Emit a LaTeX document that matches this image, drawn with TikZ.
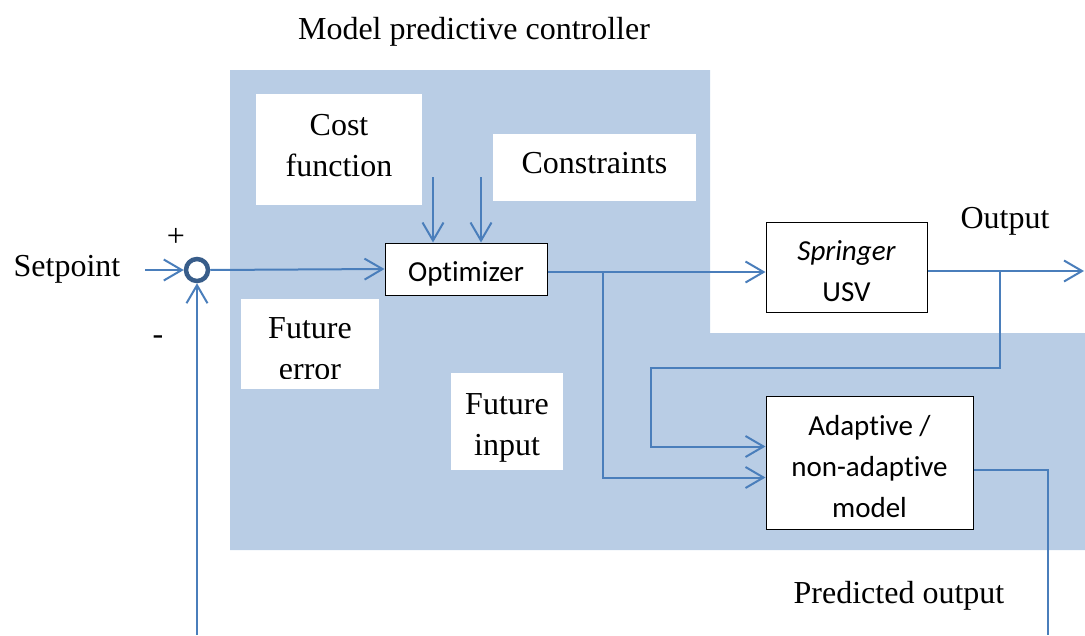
\documentclass[tikz,border=0pt]{standalone}
\usepackage{fontspec}
\setmainfont{Liberation Serif}
\newfontfamily\blockfont[Ligatures=NoCommon]{Carlito}
\usetikzlibrary{arrows.meta}

\definecolor{mpcfill}{HTML}{B9CDE5}
\definecolor{wirecol}{HTML}{4A7EBB}
\definecolor{ringcol}{HTML}{385D8A}

\tikzset{
  wire/.style={draw=wirecol, line width=2pt},
  arr/.style={wire, -{Straight Barb[length=18pt,width=21pt,line width=2pt]}},
  whitebox/.style={fill=white, inner sep=0pt},
  block/.style={draw=black, line width=1pt, fill=white, inner sep=0pt},
  blocktext/.style={inner sep=0pt, align=center,
    font=\blockfont\fontsize{29}{41}\selectfont},
  lbl/.style={inner sep=0pt, align=center, font=\fontsize{32}{41}\selectfont}
}

\begin{document}
\begin{tikzpicture}[x=1pt, y=-1pt]
      \pgfmathsetmacro{\xmax}{1085};
      \pgfmathsetmacro{\ymax}{635};

      \useasboundingbox (0,0) rectangle (\xmax,\ymax);

      % controller area
      \fill[mpcfill] (230,70) -- (710,70) -- (710,333) -- (\xmax,333)
        -- (\xmax,550) -- (230,550) -- cycle;

      \node[lbl] (title) at (474,32) {Model predictive controller};

      % white text boxes
      \node[
        whitebox,
        minimum width=166pt,
        minimum height=111pt
        ] (costfn) at (339,149.5) {};
      \node[lbl] (costfntext) at (339,145.5) {Cost\\function};

      \node[
        whitebox,
        minimum width=203pt,
        minimum height=67pt
        ] (constr) at (594.5,167.5) {};
      \node[lbl] (constrtext) at (594.5,163.5) {Constraints};

      \node[
        whitebox,
        minimum width=138pt,
        minimum height=90pt
        ] (futerr) at (310,344) {};
      % text overflows its box and is cut off
      \begin{scope}
        \clip (futerr.north west) rectangle ([yshift=11pt]futerr.south east);
        \node[lbl] (futerrtext) at (310,349) {Future\\error};
      \end{scope}

      \node[
        whitebox,
        minimum width=112pt,
        minimum height=97pt
        ] (futin) at (507,421.5) {};
      \node[lbl] (futintext) at (507,427.5) {Future\\input};

      % blocks
      \node[
        block,
        minimum width=162pt,
        minimum height=52pt
        ] (optimizer) at (466,269) {};
      \node[blocktext] (optimizertext) at (466,274) {Optimizer};

      \node[
        block,
        minimum width=161pt,
        minimum height=90pt
        ] (usv) at (846.5,267) {};
      \node[blocktext] (usvtext) at (846.5,271) {{\itshape Springer}\\USV};

      \node[
        block,
        minimum width=207pt,
        minimum height=133pt
        ] (model) at (869.5,462.5) {};
      \node[blocktext] (modeltext) at (869.5,466.5) {Adaptive /\\non-adaptive\\model};

      \node[
        circle,
        draw=ringcol,
        line width=4.5pt,
        fill=white,
        inner sep=0pt,
        minimum size=22pt
        ] (sum) at (197,270) {};

      % labels
      \node[lbl] (setlbl) at (67,269) {Setpoint};
      \node[lbl] (plus) at (176,237) {+};
      \node[lbl] (minus) at (158,340) {-};
      \node[lbl] (outlbl) at (1005,221) {Output};
      \node[lbl] (predlbl) at (899,596) {Predicted output};

      % free ends and branch points
      \coordinate (setin) at (145,270);
      \coordinate (fbin) at (197,\ymax);
      \coordinate (costdn) at (433,177);
      \coordinate (constrdn) at (481,177);
      \coordinate (br1) at (603,272);
      \coordinate (br2) at (1000,271);
      \coordinate (bend) at (651,368);
      \coordinate (outend) at (1084,271);
      \coordinate (predend) at (1048,\ymax);

      % connectors
      \draw[arr] (setin) -- (sum.west);
      \draw[arr] (fbin) -- (sum.south);
      \draw[arr] (sum.east) -- (optimizer.west);
      \draw[arr] (costdn) -- (costdn |- optimizer.north);
      \draw[arr] (constrdn) -- (constrdn |- optimizer.north);
      \draw[arr] (optimizer.east |- br1) -- (usv.west |- br1);
      \draw[arr] (br1) |- ([yshift=-15pt]model.west);
      \draw[arr] (usv.east |- outend) -- (outend);
      \draw[arr] (br2) |- (bend) |- ([yshift=16pt]model.west);
      \draw[wire] ([yshift=-7pt]model.east) -| (predend);

    \end{tikzpicture}
\end{document}
